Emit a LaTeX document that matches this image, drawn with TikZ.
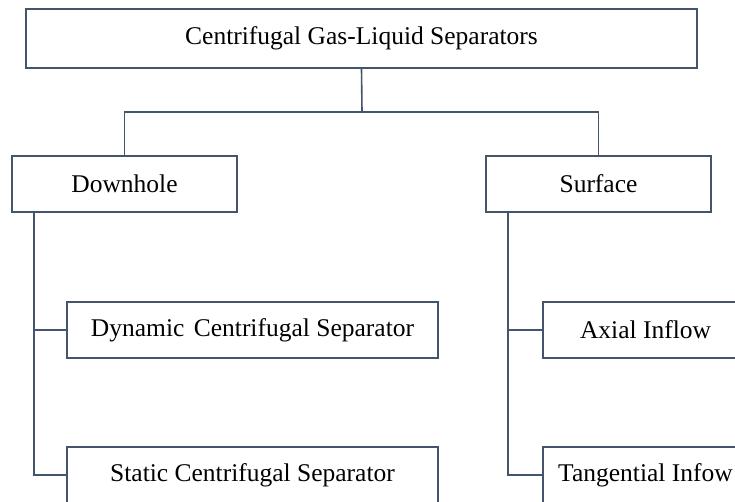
\documentclass[tikz,border=0pt]{standalone}
\usepackage{fontspec}
\setmainfont{Liberation Serif}
\definecolor{linec}{HTML}{44546A}
\begin{document}
\begin{tikzpicture}[x=1pt,y=-1pt,
  box/.style={draw=linec,line width=1.6pt,rectangle,inner sep=0pt,
    minimum height=56pt,font=\fontsize{25.5}{30}\selectfont,text=black},
  conn/.style={draw=linec,line width=1.6pt}]
\useasboundingbox (0,0) rectangle (735,502);
\clip (0,0) rectangle (735,502);
\node[box,minimum width=671pt,minimum height=59pt] (top) at (361.5,38.5) {Centrifugal Gas-Liquid Separators};
\node[box,minimum width=225pt] (down) at (124.5,184) {Downhole};
\node[box,minimum width=225pt] (surf) at (598.5,184) {Surface};
\node[box,minimum width=371pt] (dyn) at (252.5,330) {Dynamic\hspace{0.12em} Centrifugal Separator};
\node[box,minimum width=371pt] (stat) at (252.5,475) {Static Centrifugal Separator};
\node[box,minimum width=205pt] (ax) at (645.5,330) {Axial Inflow};
\node[box,minimum width=205pt] (tan) at (645.5,475) {Tangential Infow};
\coordinate (j) at (362,112);
\coordinate (ls) at (34,212);
\coordinate (rs) at (508,212);
\draw[conn] (top.south) -- (j);
\draw[conn] (j) -| (down.north);
\draw[conn] (j) -| (surf.north);
\draw[conn] (ls) |- (dyn.west);
\draw[conn] (ls) |- (stat.west);
\draw[conn] (rs) |- (ax.west);
\draw[conn] (rs) |- (tan.west);
\end{tikzpicture}
\end{document}
